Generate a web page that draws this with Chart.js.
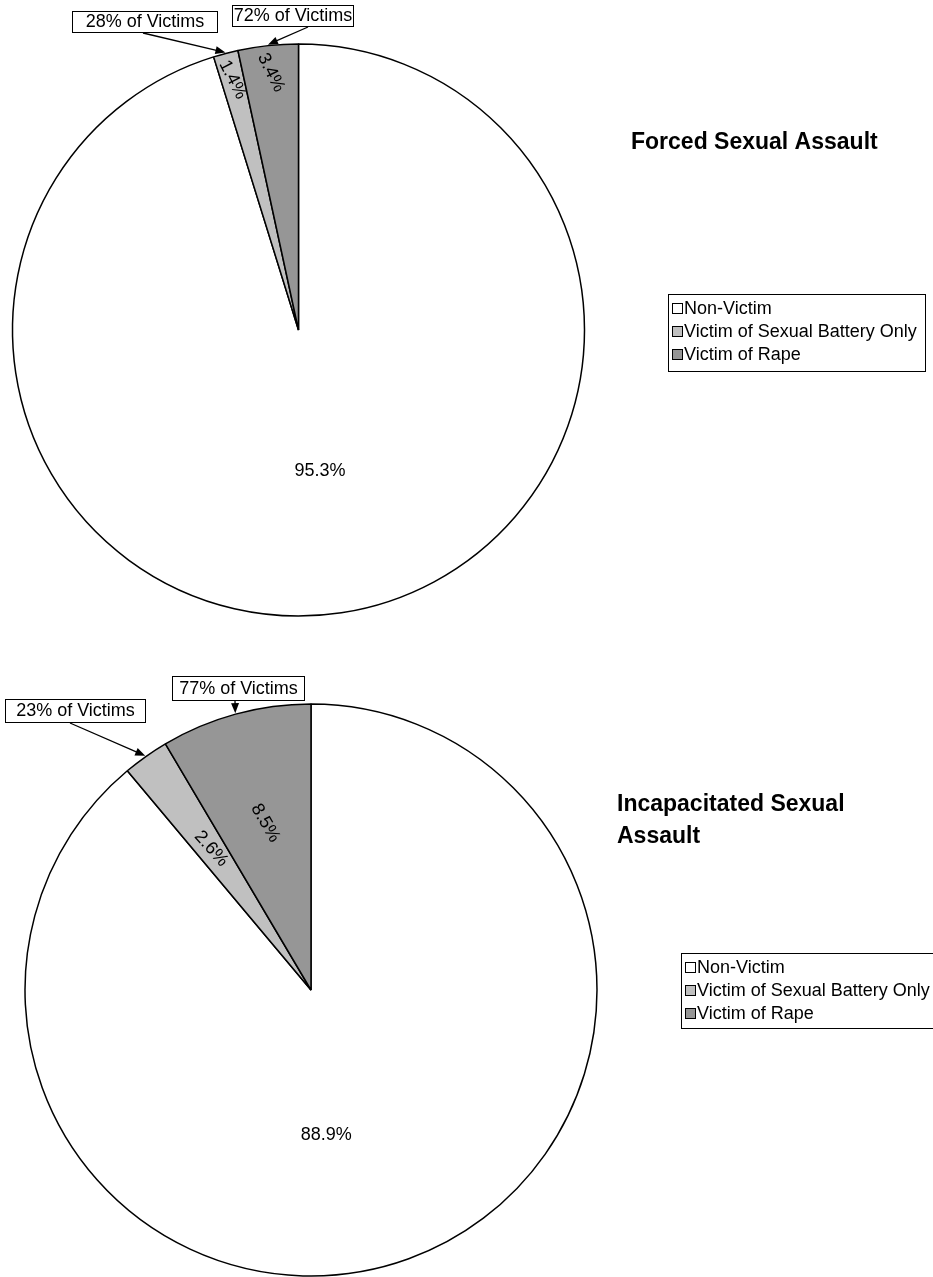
<!DOCTYPE html>
<html lang="en">
<head>
<meta charset="UTF-8" />
<title>Forced and Incapacitated Sexual Assault</title>
<script src="https://cdn.jsdelivr.net/npm/chart.js"></script>
<style>
  body { margin: 0; background: #fff; }
  .wrap { position: relative; width: 933px; }
</style>
</head>
<body>
<div class="wrap" style="height:660px"><canvas id="forcedChart"></canvas></div>
<div class="wrap" style="height:617px"><canvas id="incapChart"></canvas></div>

<script>
// ---- data ----
const categories = ["Non-Victim", "Victim of Sexual Battery Only", "Victim of Rape"];
const forcedValues = [95.3, 1.4, 3.4];
const incapValues = [88.9, 2.6, 8.5];
// share of victims: battery only, rape
const forcedVictimShare = [28, 72];
const incapVictimShare = [23, 77];

const sliceColors = ["#ffffff", "#c0c0c0", "#969696"];
const FONT = "'Liberation Sans', Arial, Helvetica, sans-serif";

// draws % labels, callouts, title and legend box
const overlay = {
  id: "overlay",
  afterDraw(chart, args, o) {
    const ctx = chart.ctx;
    const meta = chart.getDatasetMeta(0);
    const values = chart.data.datasets[0].data;
    const rad = Math.PI / 180;
    ctx.save();
    ctx.fillStyle = "#000";
    ctx.strokeStyle = "#000";

    // slice percentages
    ctx.font = "18px " + FONT;
    ctx.textAlign = "center";
    ctx.textBaseline = "middle";
    meta.data.forEach((arc, i) => {
      const mid = (arc.startAngle + arc.endAngle) / 2 + o.labelShift[i] * rad;
      const r = arc.outerRadius * o.labelRadius[i];
      ctx.save();
      ctx.translate(arc.x + Math.cos(mid) * r, arc.y + Math.sin(mid) * r);
      ctx.rotate(o.labelRotate[i] * rad);
      ctx.fillText(values[i].toFixed(1) + "%", 0, 0);
      ctx.restore();
    });

    // callouts for the two victim slices
    o.callouts.forEach((c, k) => {
      const arc = meta.data[k + 1];
      const [bx, by, bw, bh] = c.box;
      ctx.fillStyle = "#fff";
      ctx.fillRect(bx, by, bw, bh);
      ctx.lineWidth = 1;
      ctx.strokeRect(bx + 0.5, by + 0.5, bw, bh);
      ctx.fillStyle = "#000";
      ctx.fillText(o.share[k] + "% of Victims", bx + bw / 2 + 0.5, by + bh / 2 + 1);

      const mid = (arc.startAngle + arc.endAngle) / 2;
      const tx = arc.x + Math.cos(mid) * (arc.outerRadius + 1);
      const ty = arc.y + Math.sin(mid) * (arc.outerRadius + 1);
      const sx = c.ax, sy = by + bh + 1;
      const ang = Math.atan2(ty - sy, tx - sx);
      ctx.lineWidth = 1.3;
      ctx.beginPath();
      ctx.moveTo(sx, sy);
      ctx.lineTo(tx - Math.cos(ang) * 6, ty - Math.sin(ang) * 6);
      ctx.stroke();
      ctx.beginPath();
      ctx.moveTo(tx, ty);
      ctx.lineTo(tx - Math.cos(ang) * 10 + Math.sin(ang) * 4, ty - Math.sin(ang) * 10 - Math.cos(ang) * 4);
      ctx.lineTo(tx - Math.cos(ang) * 10 - Math.sin(ang) * 4, ty - Math.sin(ang) * 10 + Math.cos(ang) * 4);
      ctx.closePath();
      ctx.fill();
    });

    // title
    ctx.font = "bold 23px " + FONT;
    ctx.textAlign = "left";
    o.title.forEach((line, i) => ctx.fillText(line, o.titleX, o.titleY + i * 32));

    // legend
    const [lx, ly, lw, lh] = o.legendBox;
    ctx.lineWidth = 1;
    ctx.strokeRect(lx + 0.5, ly + 0.5, lw, lh);
    ctx.font = "18px " + FONT;
    chart.data.labels.forEach((lab, i) => {
      const cy = ly + 14 + i * 23;
      ctx.fillStyle = sliceColors[i];
      ctx.fillRect(lx + 4, cy - 4, 10, 10);
      ctx.strokeRect(lx + 4.5, cy - 4.5, 10, 10);
      ctx.fillStyle = "#000";
      ctx.fillText(lab, lx + 16, cy + 1);
    });
    ctx.restore();
  }
};

function makePie(id, values, padding, opts) {
  return new Chart(document.getElementById(id), {
    type: "pie",
    data: {
      labels: categories,
      datasets: [{
        data: values,
        backgroundColor: sliceColors,
        borderColor: "#000",
        borderWidth: 1.5,
        radius: 286
      }]
    },
    options: {
      responsive: true,
      maintainAspectRatio: false,
      animation: false,
      layout: { padding },
      plugins: {
        legend: { display: false },
        tooltip: { enabled: false },
        overlay: opts
      }
    },
    plugins: [overlay]
  });
}

makePie("forcedChart", forcedValues, { top: 0, bottom: 0, left: 0, right: 336 }, {
  share: forcedVictimShare,
  labelRadius: [0.5, 0.905, 0.905],
  labelShift: [0, 0, 0],
  labelRotate: [0, 63, 64],
  callouts: [{ box: [72, 11, 145, 21], ax: 143 }, { box: [232, 5, 121, 21], ax: 308 }],
  title: ["Forced Sexual Assault"],
  titleX: 631, titleY: 143,
  legendBox: [668, 294, 257, 77]
});

makePie("incapChart", incapValues, { top: 43, bottom: 0, left: 0, right: 311 }, {
  share: incapVictimShare,
  labelRadius: [0.51, 0.605, 0.605],
  labelShift: [14, 0, 0],
  labelRotate: [0, 48, 60],
  callouts: [{ box: [5, 39, 140, 23], ax: 70 }, { box: [172, 16, 132, 24], ax: 235 }],
  title: ["Incapacitated Sexual", "Assault"],
  titleX: 617, titleY: 145,
  legendBox: [681, 293, 257, 75]
});
</script>
</body>
</html>
